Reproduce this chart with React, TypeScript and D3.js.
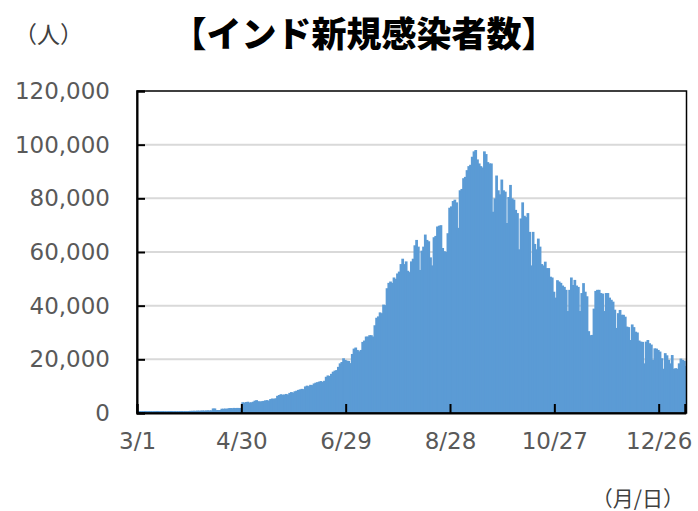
import React, { useEffect, useRef } from 'react'
import * as d3 from 'd3'

// daily new cases (2020/3/1 - 2021/1/10)
const mar = [700, 720, 680, 700, 750, 700, 720, 700, 680, 700, 720, 750, 700, 700, 720, 700, 680, 700, 720, 750, 700, 720, 700, 700, 720, 750, 700, 720, 700, 750, 800]
const apr = [800, 850, 800, 900, 850, 900, 950, 900, 950, 1000, 950, 1000, 1700, 1700, 1100, 1100, 1100, 1600, 1600, 1650, 1600, 1800, 1850, 1800, 1900, 1850, 1900, 1850, 1900, 4000]
const may = [3900, 4100, 4200, 3900, 4000, 4200, 4600, 4800, 4400, 4300, 4400, 4500, 4700, 4800, 4600, 5200, 5400, 5300, 5500, 6400, 6700, 7000, 6800, 6900, 7100, 6900, 7500, 7800, 7600, 8100, 8300]
const jun = [8600, 8800, 9000, 8900, 9900, 10200, 10000, 10500, 10400, 11000, 11300, 11500, 11700, 11900, 11600, 12000, 13500, 14000, 13800, 14600, 15400, 15800, 16000, 17200, 18500, 19000, 20400, 19800, 19500, 19400]
const jul = [18600, 22000, 24000, 24400, 23500, 23000, 23500, 26500, 27000, 28500, 28500, 29000, 29000, 28500, 32700, 35500, 36000, 37500, 37200, 40400, 40200, 46500, 48500, 49000, 48500, 50500, 50000, 52000, 52700, 55500, 57500]
const aug = [55500, 56500, 53000, 52500, 56500, 57500, 62500, 64500, 62000, 53300, 60500, 62000, 66500, 64500, 64000, 58000, 55000, 65500, 66000, 69500, 69800, 70000, 61500, 60300, 60000, 67000, 76500, 77000, 79000, 79500, 78500]
const sep = [69000, 83000, 83500, 87500, 88000, 90500, 92000, 92500, 95500, 97500, 98000, 94500, 93000, 92000, 91500, 97500, 96500, 93500, 93000, 93000, 75000, 80000, 88500, 83000, 81500, 87000, 83000, 82500, 70800, 80500]
const oct = [85000, 80000, 79500, 75700, 74500, 61000, 72500, 78500, 73500, 73000, 74500, 67500, 55000, 67500, 63000, 61000, 65000, 62000, 55500, 55000, 56400, 54000, 54000, 50800, 50500, 45200, 43000, 49500, 49000, 48500, 47500]
const nov = [47000, 45900, 38000, 45900, 50500, 47700, 49600, 47500, 47000, 38000, 44700, 48400, 45200, 43500, 30500, 29000, 29100, 38900, 45500, 45900, 45900, 44700, 44500, 38000, 44700, 44700, 43000, 42200, 41500, 38500]
const dec = [31700, 37200, 38400, 36600, 36600, 35900, 32200, 32000, 27200, 33000, 32000, 30300, 30000, 27000, 26600, 26500, 18500, 26600, 27200, 26000, 25500, 19800, 24100, 24000, 23500, 22900, 20400, 16500, 22300, 21500, 19800]
const jan = [18500, 21600, 16500, 16700, 16500, 18500, 20300, 19800, 19500, 17500]

const yTicks = [0, 20000, 40000, 60000, 80000, 100000, 120000]
const xTickEvery = 60

const values = [...mar, ...apr, ...may, ...jun, ...jul, ...aug, ...sep, ...oct, ...nov, ...dec, ...jan]
const start = new Date(2020, 2, 1)
const dates = values.map((_, i) => new Date(2020, 2, 1 + i))
const data = values.map((v, i) => ({ date: dates[i], value: v }))

const fmt = (d: Date) => `${d.getMonth() + 1}/${d.getDate()}`

export default function App() {
    const ref = useRef<SVGSVGElement>(null)

    useEffect(() => {
        const width = 698, height = 511
        const margin = { top: 91, right: 11.5, bottom: 98, left: 137 }
        const w = width - margin.left - margin.right
        const h = height - margin.top - margin.bottom

        const svg = d3.select(ref.current)
        svg.selectAll('*').remove()

        const g = svg.append('g').attr('transform', `translate(${margin.left}, ${margin.top})`)

        const x = d3.scaleBand<Date>().domain(dates).range([0, w]).padding(0)
        const y = d3.scaleLinear().domain([0, 120000]).range([h, 0])

        // gridlines
        g.selectAll('.grid').data(yTicks.slice(1, -1)).join('line')
            .attr('x1', 0).attr('x2', w)
            .attr('y1', d => y(d)).attr('y2', d => y(d))
            .attr('stroke', '#D9D9D9').attr('stroke-width', 2)

        // bars (slightly overlapped so no seams show between them)
        g.selectAll('.bar').data(data).join('rect')
            .attr('x', d => x(d.date)!)
            .attr('y', d => y(d.value))
            .attr('width', (d, i) => i === data.length - 1 ? x.bandwidth() : x.bandwidth() + 1)
            .attr('height', d => h - y(d.value))
            .attr('fill', '#5B9BD5')

        // plot border
        g.append('rect').attr('x', 0).attr('y', 0).attr('width', w).attr('height', h)
            .attr('fill', 'none').attr('stroke', '#000').attr('stroke-width', 1.5)

        // y axis
        const yAxis = g.append('g')
            .call(d3.axisLeft(y).tickValues(yTicks).tickFormat(d3.format(',')).tickSize(-8).tickPadding(27))
        yAxis.select('.domain').attr('stroke', '#000').attr('stroke-width', 2)
        yAxis.selectAll('.tick line').attr('stroke', '#000').attr('stroke-width', 2)
        yAxis.selectAll('text').attr('fill', '#595959').style('font-size', '23px')
            .style('font-family', 'DejaVu Sans, Verdana, sans-serif')

        // x axis, tick every 60 days at the band start
        const tickDates = dates.filter((_, i) => i % xTickEvery === 0)
        const xPos = d3.scaleTime().domain([start, dates[dates.length - 1]]).range([0, x(dates[dates.length - 1])!])
        const xAxis = g.append('g').attr('transform', `translate(0, ${h})`)
            .call(d3.axisBottom(xPos).tickValues(tickDates).tickFormat(d => fmt(d as Date)).tickSize(-9).tickPadding(20))
        xAxis.select('.domain').attr('stroke', '#000').attr('stroke-width', 2)
        xAxis.selectAll('.tick line').attr('stroke', '#000').attr('stroke-width', 2)
        xAxis.selectAll('text').attr('fill', '#595959').style('font-size', '23px')
            .style('font-family', 'DejaVu Sans, Verdana, sans-serif')

        // title and unit labels
        svg.append('text')
            .attr('x', 364).attr('y', 47)
            .attr('text-anchor', 'middle')
            .style('font-family', '"Noto Sans CJK JP", sans-serif')
            .style('font-size', '35px').style('font-weight', '900')
            .attr('fill', '#000')
            .text('【インド新規感染者数】')

        svg.append('text')
            .attr('x', 14).attr('y', 43)
            .style('font-family', '"Noto Sans CJK JP", sans-serif')
            .style('font-size', '23px')
            .attr('fill', '#404040')
            .text('（人）')

        svg.append('text')
            .attr('x', 684).attr('y', 506)
            .attr('text-anchor', 'end')
            .style('font-family', '"Noto Sans CJK JP", sans-serif')
            .style('font-size', '21px')
            .attr('fill', '#404040')
            .text('（月/日）')
    }, [])

    return (
        <svg ref={ref} width={698} height={511}
            style={{ position: 'absolute', left: 0, top: 0, background: '#fff' }} />
    )
}
